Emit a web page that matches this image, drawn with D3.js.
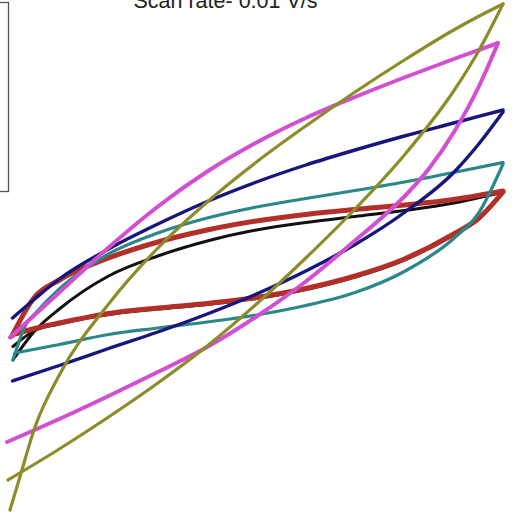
<!DOCTYPE html>
<html>
<head>
<meta charset="utf-8">
<script src="https://cdn.jsdelivr.net/npm/d3@7"></script>
<style>
  html, body { margin: 0; padding: 0; background: #ffffff; }
  svg { display: block; }
</style>
</head>
<body>
<div id="chart"></div>
<script>
// ---- Data: potential (V) vs current (mA); forward = lower branch, reverse = upper branch ----
const titleText = "Scan rate- 0.01 V/s";

const blackForward  = [[0.006,-0.9],[0.05,-0.74],[0.1,-0.675],[0.2,-0.58],[0.3,-0.525],[0.4,-0.48],[0.5,-0.42],[0.6,-0.33],[0.7,-0.205],[0.8,-0.035],[0.9,0.215],[0.95,0.37],[1.0,0.635]];
const blackReverse  = [[1.0,0.645],[0.9,0.535],[0.8,0.46],[0.7,0.40],[0.6,0.34],[0.5,0.265],[0.4,0.155],[0.3,0.005],[0.2,-0.195],[0.1,-0.525],[0.05,-0.745],[0.006,-1.035]];

const redForward    = [[0.01,-0.775],[0.05,-0.72],[0.1,-0.665],[0.2,-0.57],[0.3,-0.515],[0.4,-0.47],[0.5,-0.41],[0.6,-0.32],[0.7,-0.195],[0.8,-0.025],[0.9,0.225],[0.95,0.38],[1.0,0.645]];
const redReverse    = [[1.0,0.655],[0.9,0.57],[0.8,0.515],[0.7,0.47],[0.6,0.42],[0.5,0.355],[0.4,0.265],[0.3,0.145],[0.2,-0.015],[0.1,-0.235],[0.05,-0.405],[0.004,-0.795]];

const tealForward   = [[0.01,-0.965],[0.1,-0.88],[0.2,-0.78],[0.3,-0.715],[0.4,-0.655],[0.5,-0.585],[0.6,-0.49],[0.7,-0.36],[0.8,-0.15],[0.9,0.18],[0.95,0.43],[1.0,0.925]];
const tealReverse   = [[1.0,0.94],[0.9,0.84],[0.8,0.745],[0.7,0.66],[0.6,0.58],[0.5,0.495],[0.4,0.385],[0.3,0.235],[0.2,0.025],[0.1,-0.325],[0.05,-0.575],[0.034,-0.665],[0.006,-1.035]];

const navyForward   = [[0.005,-1.245],[0.1,-1.09],[0.2,-0.92],[0.3,-0.755],[0.4,-0.575],[0.5,-0.375],[0.6,-0.145],[0.7,0.12],[0.8,0.44],[0.9,0.84],[0.95,1.12],[1.0,1.445]];
const navyReverse   = [[1.0,1.465],[0.9,1.335],[0.8,1.205],[0.7,1.065],[0.6,0.915],[0.5,0.745],[0.4,0.55],[0.3,0.325],[0.2,0.075],[0.1,-0.225],[0.05,-0.425],[0.005,-0.615]];

const magentaForward = [[-0.006,-1.855],[0.1,-1.625],[0.2,-1.395],[0.3,-1.155],[0.4,-0.905],[0.5,-0.6],[0.6,-0.25],[0.7,0.16],[0.75,0.37],[0.8,0.6],[0.85,0.88],[0.9,1.24],[0.95,1.69],[0.99,2.135]];
const magentaReverse = [[0.99,2.135],[0.9,1.975],[0.8,1.79],[0.7,1.595],[0.6,1.385],[0.5,1.14],[0.4,0.85],[0.3,0.5],[0.2,0.09],[0.1,-0.36],[0.0,-0.81]];

const oliveForward  = [[-0.004,-2.235],[0.1,-1.925],[0.2,-1.605],[0.3,-1.265],[0.4,-0.895],[0.5,-0.475],[0.6,-0.015],[0.7,0.475],[0.8,1.015],[0.9,1.655],[0.95,2.05],[1.0,2.525]];
const oliveReverse  = [[1.0,2.525],[0.95,2.40],[0.9,2.265],[0.8,1.965],[0.7,1.645],[0.6,1.305],[0.5,0.945],[0.4,0.545],[0.3,0.085],[0.2,-0.475],[0.1,-1.185],[0.05,-1.715],[0.02,-2.205],[0.0,-2.535]];

const seriesNames  = ["black", "red", "teal", "navy", "magenta", "olive"];
const seriesColors = ["#111111", "#b3302a", "#2c8888", "#16167c", "#d24fd2", "#8c8c2a"];
const seriesWidths = [3, 5, 3.2, 3.4, 4, 3.2];
const seriesData = [
  [blackForward, blackReverse],
  [redForward, redReverse],
  [tealForward, tealReverse],
  [navyForward, navyReverse],
  [magentaForward, magentaReverse],
  [oliveForward, oliveReverse]
];

// ---- Layout ----
const W = 529, H = 513;
const svg = d3.select("#chart").append("svg").attr("width", W).attr("height", H);

const x = d3.scaleLinear().domain([0, 1]).range([10, 503]);
const y = d3.scaleLinear().domain([-2.5, 2.5]).range([506.5, 6.5]);

// legend frame (mostly outside the visible area)
svg.append("rect")
  .attr("x", -120).attr("y", 2.5)
  .attr("width", 128.5).attr("height", 189)
  .attr("fill", "none").attr("stroke", "#555").attr("stroke-width", 1.3);

// title (partially above the top edge, as in the reference)
svg.append("text")
  .attr("x", 225.5).attr("y", 8)
  .attr("text-anchor", "middle")
  .attr("font-family", "Liberation Sans, Arial, sans-serif")
  .attr("font-size", 21.5)
  .attr("fill", "#222")
  .text(titleText);

const line = d3.line()
  .x(d => x(d[0]))
  .y(d => y(d[1]))
  .curve(d3.curveMonotoneX);

const g = svg.append("g");
seriesData.forEach((branches, i) => {
  branches.forEach(b => {
    const pts = b.slice().sort((a, c) => a[0] - c[0]);
    g.append("path")
      .datum(pts)
      .attr("d", line)
      .attr("fill", "none")
      .attr("stroke", seriesColors[i])
      .attr("stroke-width", seriesWidths[i])
      .attr("stroke-linecap", "round")
      .attr("stroke-linejoin", "round")
      .attr("class", "series-" + seriesNames[i]);
  });
});
</script>
</body>
</html>
